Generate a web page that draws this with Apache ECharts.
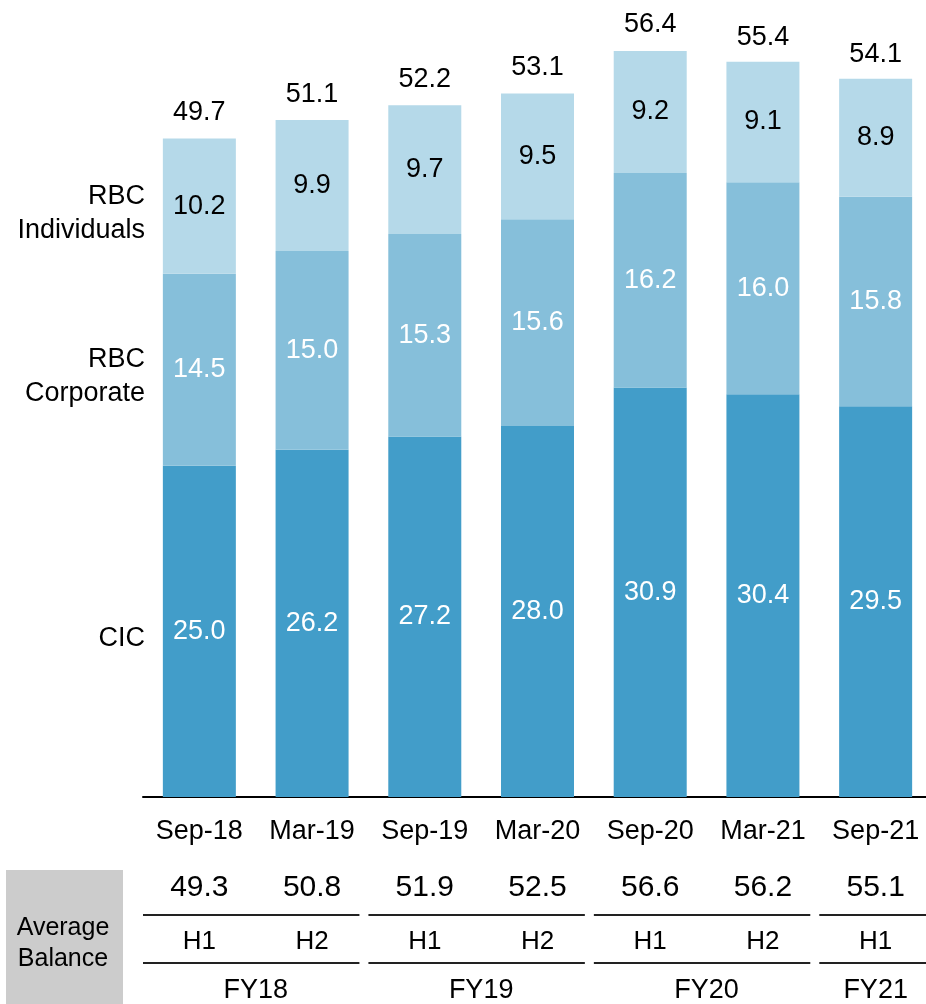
<!DOCTYPE html>
<html>
<head>
<meta charset="utf-8">
<style>
  html, body { margin: 0; padding: 0; background: #ffffff; }
  #chart { width: 926px; height: 1004px; }
</style>
<script src="https://cdn.jsdelivr.net/npm/echarts@6/dist/echarts.min.js"></script>
</head>
<body>
<div id="chart"></div>
<script>
// Period-end balances by segment
const periods = ['Sep-18', 'Mar-19', 'Sep-19', 'Mar-20', 'Sep-20', 'Mar-21', 'Sep-21'];
const cic = [25.0, 26.2, 27.2, 28.0, 30.9, 30.4, 29.5];
const rbcCorporate = [14.5, 15.0, 15.3, 15.6, 16.2, 16.0, 15.8];
const rbcIndividuals = [10.2, 9.9, 9.7, 9.5, 9.2, 9.1, 8.9];
const totals = [49.7, 51.1, 52.2, 53.1, 56.4, 55.4, 54.1];

// Average balance table beneath the bars
const avgBalance = [49.3, 50.8, 51.9, 52.5, 56.6, 56.2, 55.1];
const halves = ['H1', 'H2', 'H1', 'H2', 'H1', 'H2', 'H1'];
const fiscalYears = ['FY18', 'FY19', 'FY20', 'FY21'];
const fiscalSpans = [[0, 1], [2, 3], [4, 5], [6, 6]];

const seriesNames = ['CIC', 'RBC\nCorporate', 'RBC\nIndividuals'];

const FONT = 'Liberation Sans, Arial, sans-serif';
const FS = 27;
const colors = { cic: '#429dc9', corp: '#86bfda', ind: '#b5d9e9' };

const chart = echarts.init(document.getElementById('chart'), null, { renderer: 'canvas' });

const fmt = p => Number(p.value).toFixed(1);

function rowAxis(margin, fontSize, formatter) {
  return {
    type: 'category',
    gridIndex: 0,
    position: 'bottom',
    data: periods,
    axisLine: { show: false },
    axisTick: { show: false },
    axisLabel: {
      margin: margin,
      interval: 0,
      fontFamily: FONT,
      fontSize: fontSize,
      lineHeight: fontSize + 2,
      color: '#000',
      formatter: formatter
    }
  };
}

function stackSeries(name, data, color, labelColor) {
  return {
    name: name,
    type: 'bar',
    stack: 'total',
    barWidth: 73,
    data: data,
    itemStyle: { color: color },
    label: {
      show: true,
      position: 'inside',
      fontFamily: FONT,
      fontSize: FS,
      color: labelColor,
      formatter: fmt
    },
    emphasis: { disabled: true }
  };
}

chart.setOption({
  animation: false,
  backgroundColor: '#ffffff',
  grid: { left: 143, width: 789, top: 2, bottom: 207, outerBoundsMode: 'none', containLabel: false },
  xAxis: [
    {
      type: 'category',
      data: periods,
      axisLine: { show: true, lineStyle: { color: '#000', width: 2 } },
      axisTick: { show: false },
      axisLabel: {
        margin: 21,
        interval: 0,
        fontFamily: FONT,
        fontSize: FS,
        lineHeight: 28,
        color: '#000'
      }
    },
    rowAxis(75, 30, (v, i) => avgBalance[i].toFixed(1)),
    rowAxis(131, 26, (v, i) => halves[i])
  ],
  yAxis: {
    type: 'value',
    min: 0,
    max: 60,
    show: false,
    splitLine: { show: false }
  },
  series: [
    stackSeries(seriesNames[0], cic, colors.cic, '#ffffff'),
    stackSeries(seriesNames[1], rbcCorporate, colors.corp, '#ffffff'),
    stackSeries(seriesNames[2], rbcIndividuals, colors.ind, '#000000'),
    {
      name: 'Total',
      type: 'scatter',
      data: totals,
      symbolSize: 0,
      itemStyle: { opacity: 1 },
      label: {
        show: true,
        position: 'top',
        distance: 12,
        fontFamily: FONT,
        fontSize: FS,
        lineHeight: 27,
        color: '#000',
        opacity: 1,
        formatter: fmt
      },
      emphasis: { disabled: true }
    }
  ]
});

// Table decorations and segment names, placed from the chart's own scales
const xOf = i => chart.convertToPixel({ xAxisIndex: 0 }, i);
const yOf = v => chart.convertToPixel({ yAxisIndex: 0 }, v);
const band = xOf(1) - xOf(0);
const width = chart.getWidth();

const graphics = [];

// Segment names beside the first bar
const segData = [cic, rbcCorporate, rbcIndividuals];
let base = 0;
segData.forEach((arr, k) => {
  const mid = base + arr[0] / 2;
  base += arr[0];
  graphics.push({
    type: 'text',
    style: {
      text: seriesNames[k],
      x: 145,
      y: yOf(mid) + 7,
      align: 'right',
      verticalAlign: 'middle',
      fontFamily: FONT,
      fontSize: FS,
      lineHeight: 34,
      fill: '#000'
    }
  });
});

// Grey caption box
graphics.push({
  type: 'rect',
  shape: { x: 6, y: 870, width: 117, height: 134 },
  style: { fill: '#cccccc' }
});
graphics.push({
  type: 'text',
  style: {
    text: 'Average\nBalance',
    x: 63,
    y: 944,
    align: 'center',
    verticalAlign: 'middle',
    fontFamily: FONT,
    fontSize: 25,
    lineHeight: 31,
    fill: '#000'
  }
});

// Fiscal-year rules and labels
fiscalSpans.forEach((span, k) => {
  const x1 = xOf(span[0]) - band / 2;
  const isLast = k === fiscalSpans.length - 1;
  const x2 = isLast ? width : xOf(span[1]) + band / 2 - 9;
  [915, 963].forEach(y => {
    graphics.push({
      type: 'line',
      shape: { x1: x1, y1: y, x2: x2, y2: y },
      style: { stroke: '#222', lineWidth: 2 }
    });
  });
  graphics.push({
    type: 'text',
    style: {
      text: fiscalYears[k],
      x: (xOf(span[0]) + xOf(span[1])) / 2,
      y: 991,
      align: 'center',
      verticalAlign: 'middle',
      fontFamily: FONT,
      fontSize: FS,
      fill: '#000'
    }
  });
});

chart.setOption({ graphic: graphics });
</script>
</body>
</html>
